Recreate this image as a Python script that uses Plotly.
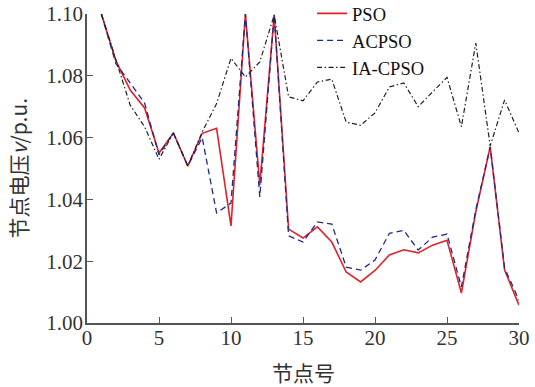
import plotly.graph_objects as go

nodes = list(range(1, 31))
pso = [1.100, 1.085, 1.0754, 1.0696, 1.055, 1.0615, 1.0508, 1.0614, 1.063, 1.0314,
       1.100, 1.0447, 1.0997, 1.0304, 1.0275, 1.0311, 1.0262, 1.0165, 1.0133, 1.017,
       1.022, 1.0237, 1.0227, 1.0252, 1.0268, 1.0097, 1.036, 1.057, 1.0171, 1.0058]
acpso = [1.100, 1.084, 1.0777, 1.0712, 1.0544, 1.0615, 1.0508, 1.060, 1.0356, 1.0388,
         1.100, 1.0408, 1.0997, 1.0282, 1.0262, 1.0327, 1.032, 1.0181, 1.0171, 1.0204,
         1.029, 1.030, 1.0236, 1.0278, 1.0288, 1.0117, 1.0366, 1.057, 1.0178, 1.0074]
iacpso = [1.100, 1.085, 1.0705, 1.0635, 1.053, 1.0615, 1.0508, 1.0618, 1.071, 1.0857,
          1.0796, 1.0845, 1.0997, 1.0732, 1.0719, 1.078, 1.0789, 1.065, 1.064, 1.068,
          1.0764, 1.0777, 1.070, 1.0748, 1.0795, 1.0635, 1.0906, 1.0573, 1.0722, 1.0615]

x_ticks = [0, 5, 10, 15, 20, 25, 30]
y_ticks = [1.00, 1.02, 1.04, 1.06, 1.08, 1.10]

serif = "Liberation Serif, Times New Roman, serif"
cjk = "Noto Sans CJK SC, Liberation Serif"

fig = go.Figure()
fig.add_trace(go.Scatter(x=nodes, y=pso, mode="lines", name="PSO",
                         line=dict(color="#e3202b", width=1.6)))
fig.add_trace(go.Scatter(x=nodes, y=acpso, mode="lines", name="ACPSO",
                         line=dict(color="#1c2a8a", width=1.3, dash="6px,4px")))
fig.add_trace(go.Scatter(x=nodes, y=iacpso, mode="lines", name="IA-CPSO",
                         line=dict(color="#222222", width=1.2, dash="5px,2.5px,1.5px,2.5px")))

axis_common = dict(showline=True, linecolor="#555555", linewidth=1.5,
                   ticks="inside", ticklen=6, tickwidth=1.3, tickcolor="#555555",
                   showgrid=False, zeroline=False, mirror=False, automargin=False,
                   ticklabeloverflow="allow",
                   tickfont=dict(family=serif, size=21, color="#333333"))

fig.update_xaxes(range=[0, 30], tickvals=x_ticks, ticktext=[str(t) for t in x_ticks],
                 ticklabelstandoff=-5, **axis_common)
fig.update_yaxes(range=[1.0, 1.1], tickvals=y_ticks, ticktext=[f"{t:.2f}" for t in y_ticks],
                 ticklabelstandoff=-2, **axis_common)

fig.add_annotation(text="节点号", xref="paper", yref="paper", x=0.5, y=-0.159,
                   showarrow=False, xanchor="center", yanchor="middle",
                   font=dict(family=cjk, size=21, color="#333333"))
fig.add_annotation(text="节点电压<i>v</i>/p.u.", xref="paper", yref="paper", x=-0.16, y=0.5,
                   showarrow=False, xanchor="center", yanchor="middle", textangle=-90,
                   font=dict(family=cjk, size=21, color="#333333"))

fig.update_layout(
    width=535, height=387,
    margin=dict(l=87, r=16, t=14, b=64, autoexpand=False),
    plot_bgcolor="white", paper_bgcolor="white",
    legend=dict(x=0.521, y=1.062, xanchor="left", yanchor="top",
                bgcolor="rgba(0,0,0,0)", font=dict(family=serif, size=18.5, color="#111111"),
                itemwidth=30, tracegroupgap=0),
    showlegend=True,
)

fig.write_html("out.html", config={"displayModeBar": False},
               post_script="document.body.style.margin='0';")
